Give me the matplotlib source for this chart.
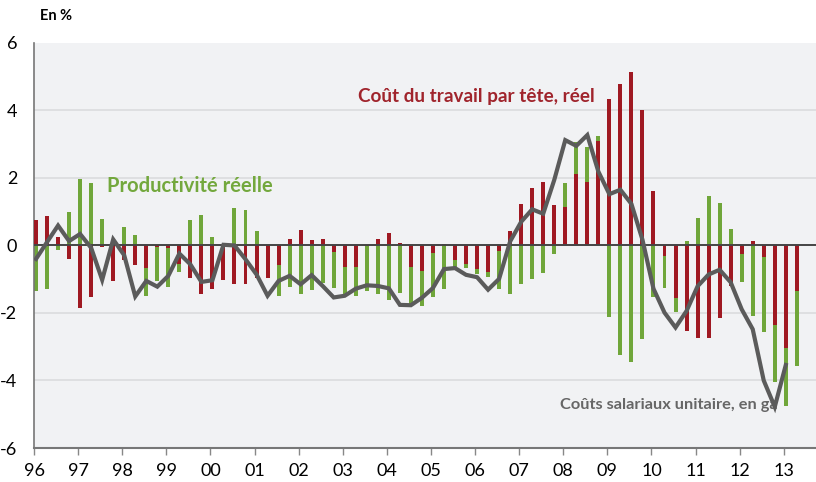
import numpy as np
import matplotlib.pyplot as plt

# quarterly data, 1996Q1 .. 2013Q2
labour_cost = [0.75, 0.86, 0.26, -0.41, -1.85, -1.53, -0.05, -1.06, -0.43, -0.59,
               -0.66, -0.05, -0.08, -0.56, -0.97, -1.43, -1.30, -1.03, -1.13, -1.13,
               -0.95, -0.97, -0.59, 0.18, 0.47, 0.16, 0.18, -0.20, -0.63, -0.64,
               -0.03, 0.20, 0.37, 0.08, -0.63, -0.77, -0.22, 0.05, -0.44, -0.56,
               -0.69, -0.79, -0.17, 0.44, 1.23, 1.69, 1.89, 1.20, 1.15, 2.12,
               1.89, 3.10, 4.35, 4.77, 5.15, 4.02, 1.62, -0.30, -1.55, -2.54,
               -2.73, -2.73, -2.15, -1.21, -0.25, 0.12, -0.35, -2.36, -3.05, -1.35]
productivity = [-1.35, -1.28, -0.12, 0.98, 1.97, 1.85, 0.79, 0.10, 0.55, 0.30,
                -1.49, -1.06, -1.23, -0.80, 0.74, 0.89, 0.25, 0.02, 1.11, 1.06,
                0.43, -0.30, -1.49, -1.23, -1.44, -1.32, -1.10, -1.25, -1.49, -1.51,
                -1.35, -1.44, -1.62, -1.40, -1.79, -1.80, -1.52, -1.30, -0.70, -0.66,
                -0.86, -0.93, -1.30, -1.45, -1.13, -1.00, -0.82, -0.26, 1.86, 3.07,
                2.91, 3.24, -2.12, -3.25, -3.46, -2.78, -1.52, -1.26, -1.96, 0.12,
                0.80, 1.47, 1.27, 0.48, -1.09, -2.09, -2.56, -4.05, -4.75, -3.58]
unit_cost = [-0.40, 0.10, 0.59, 0.13, 0.34, -0.07, -1.02, 0.18, -0.29, -1.51,
             -1.05, -1.22, -0.90, -0.24, -0.56, -1.08, -1.03, 0.02, 0.00, -0.41,
             -0.86, -1.49, -1.05, -0.90, -1.15, -0.88, -1.20, -1.54, -1.49, -1.28,
             -1.18, -1.20, -1.27, -1.76, -1.77, -1.55, -1.26, -0.70, -0.67, -0.87,
             -0.94, -1.31, -0.99, 0.12, 0.70, 1.07, 0.94, 1.94, 3.12, 2.95,
             3.27, 2.19, 1.52, 1.65, 1.23, 0.17, -1.28, -1.99, -2.43, -1.94,
             -1.21, -0.86, -0.72, -1.09, -1.89, -2.48, -4.00, -4.78, -3.54]
years = list(range(1996, 2014))
year_labels = ["%02d" % (y % 100) for y in years]

red = "#9f1922"
green = "#70a63a"
grey = "#5b5b5b"

plt.rcParams["font.family"] = ["Lato", "DejaVu Sans"]

fig = plt.figure(figsize=(8.16, 4.82), dpi=100)
ax = fig.add_axes([0.0417, 0.0705, 0.9583, 0.8405])
ax.set_facecolor("#f1f2f4")

x = 1996.045 + np.arange(len(labour_cost)) / 4
x_line = x[:len(unit_cost)]

for yv in [-4, -2, 2, 4]:
    ax.axhline(yv, color="#dcdddf", lw=1.3, zorder=1)

ax.bar(x, productivity, width=0.09, color=green, zorder=2)
ax.bar(x, labour_cost, width=0.09, color=red, zorder=3)
ax.axhline(0, color="#454545", lw=1.4, zorder=4)
ax.plot(x_line, unit_cost, color=grey, lw=3.0, zorder=6, solid_joinstyle="miter")

ax.set_xlim(1996, 2013.73)
ax.set_ylim(-6, 6)
ax.set_yticks([-6, -4, -2, 0, 2, 4, 6])
ax.set_yticklabels(["-6", "-4", "-2", "0", "2", "4", "6"])
ax.set_xticks(years)
ax.set_xticklabels(year_labels)
ax.tick_params(axis="y", length=0, pad=12, labelsize=13)
ax.tick_params(axis="x", length=5, width=1, color="#888888", pad=6, labelsize=13)

for s in ["top", "right"]:
    ax.spines[s].set_visible(False)
ax.spines["left"].set_color("#777777")
ax.spines["bottom"].set_color("#777777")
ax.spines["left"].set_linewidth(1.2)
ax.spines["bottom"].set_linewidth(1.5)

ax.text(2003.35, 4.41, "Coût du travail par tête, réel", color="#a0242c",
        fontsize=13.6, fontweight="bold", va="center", ha="left", zorder=5)
ax.text(1997.66, 1.75, "Productivité réelle", color="#73a83d",
        fontsize=14.5, fontweight="bold", va="center", ha="left", zorder=5)
ax.text(2007.93, -4.72, "Coûts salariaux unitaire, en ga", color="#666666",
        fontsize=11.8, fontweight="bold", va="center", ha="left", zorder=5)

fig.text(0.049, 0.966, "En %", fontsize=10.5, fontweight="bold", va="center", ha="left")

plt.savefig("out.png", dpi=100)
